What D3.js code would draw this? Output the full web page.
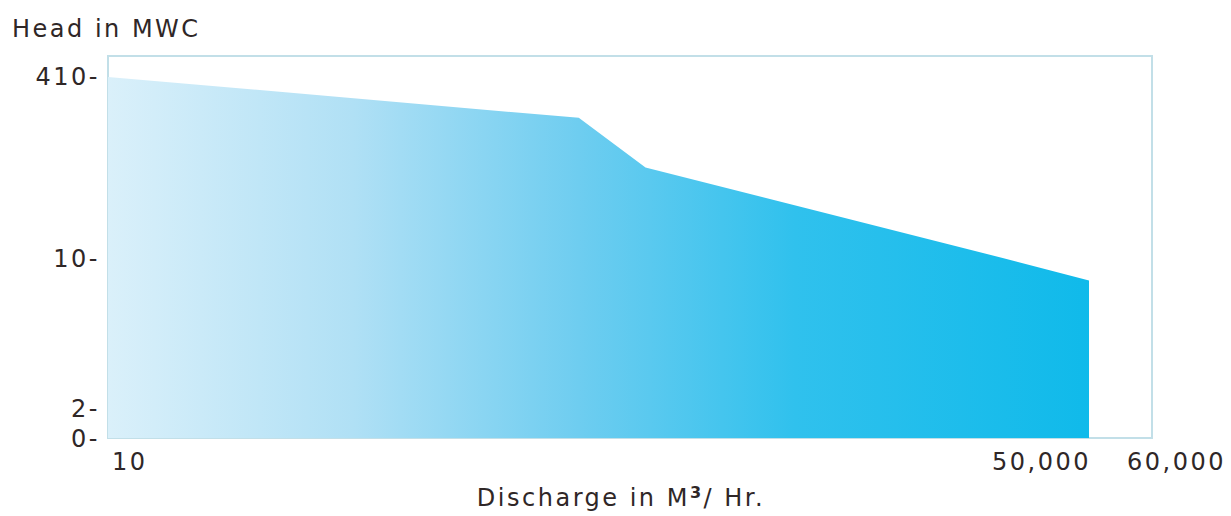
<!DOCTYPE html>
<html>
<head>
<meta charset="utf-8">
<script src="https://cdn.jsdelivr.net/npm/d3@7"></script>
<style>
  body { margin: 0; background: #fff; }
  text { font-family: "DejaVu Sans", Verdana, sans-serif; fill: #2f2727; }
</style>
</head>
<body>
<script>
// data
var discharge = [10, 24000, 27400, 45600, 50000];
var head = [408, 318, 209, 10, 8.8];
var yTicks = [410, 10, 2, 0];
var xTicks = [10, 50000, 60000];
var xTickLabels = ["10", "50,000", "60,000"];

var W = 1231, H = 516;
var svg = d3.select("body").append("svg")
  .attr("width", W)
  .attr("height", H);

// box of the plot ("top" is taken by window.top)
var boxL = 108, boxR = 1152, boxT = 56, boxB = 438;

// the axes are not linear, so piecewise scales
var x = d3.scaleLinear()
  .domain([10, 50000, 60000])
  .range([boxL, 1089, boxR]);
var y = d3.scaleLinear()
  .domain([0, 2, 10, 410])
  .range([boxB, 408, 258, 76]);

//渐变
var grad = svg.append("defs").append("linearGradient")
  .attr("id", "fillGrad")
  .attr("gradientUnits", "userSpaceOnUse")
  .attr("x1", boxL).attr("x2", 1089)
  .attr("y1", 0).attr("y2", 0);
grad.append("stop").attr("offset", "0%").attr("stop-color", "#daf0fa");
grad.append("stop").attr("offset", "25%").attr("stop-color", "#b0e0f5");
grad.append("stop").attr("offset", "48%").attr("stop-color", "#6ecdf0");
grad.append("stop").attr("offset", "70%").attr("stop-color", "#30c1ed");
grad.append("stop").attr("offset", "100%").attr("stop-color", "#10baea");

var pts = discharge.map(function (d, i) { return [d, head[i]]; });

var area = d3.area()
  .x(function (d) { return x(d[0]); })
  .y0(y(0))
  .y1(function (d) { return y(d[1]); });

//边框
svg.append("rect")
  .attr("x", boxL)
  .attr("y", boxT)
  .attr("width", boxR - boxL)
  .attr("height", boxB - boxT)
  .attr("fill", "none")
  .attr("stroke", "#c2dfe8")
  .attr("stroke-width", 2);

svg.append("path")
  .datum(pts)
  .attr("d", area)
  .attr("fill", "url(#fillGrad)");

// y tick labels
svg.selectAll(".ytick")
  .data(yTicks)
  .enter().append("text")
  .attr("class", "ytick")
  .attr("x", boxL - 8)
  .attr("y", function (d) { return y(d); })
  .attr("dy", "0.36em")
  .attr("text-anchor", "end")
  .style("font-size", "24px")
  .style("letter-spacing", "2.5px")
  .text(function (d) { return d + "-"; });

// x tick labels
var anchors = ["start", "end", "start"];
var offs = [4, 2, -25];
svg.selectAll(".xtick")
  .data(xTicks)
  .enter().append("text")
  .attr("class", "xtick")
  .attr("x", function (d, i) { return x(d) + offs[i]; })
  .attr("y", 470)
  .attr("text-anchor", function (d, i) { return anchors[i]; })
  .style("font-size", "24px")
  .style("letter-spacing", "2.5px")
  .text(function (d, i) { return xTickLabels[i]; });

// axis titles
svg.append("text")
  .attr("x", 12)
  .attr("y", 37)
  .style("font-size", "24px")
  .style("letter-spacing", "2.5px")
  .text("Head in MWC");

var xt = svg.append("text")
  .attr("x", 621)
  .attr("y", 506)
  .attr("text-anchor", "middle")
  .style("font-size", "24px")
  .style("letter-spacing", "2.5px");
xt.append("tspan").text("Discharge in M");
xt.append("tspan").attr("dy", -8).style("font-size", "16px").style("font-weight", "bold").text("3");
xt.append("tspan").attr("dy", 8).text("/ Hr.");
</script>
</body>
</html>
